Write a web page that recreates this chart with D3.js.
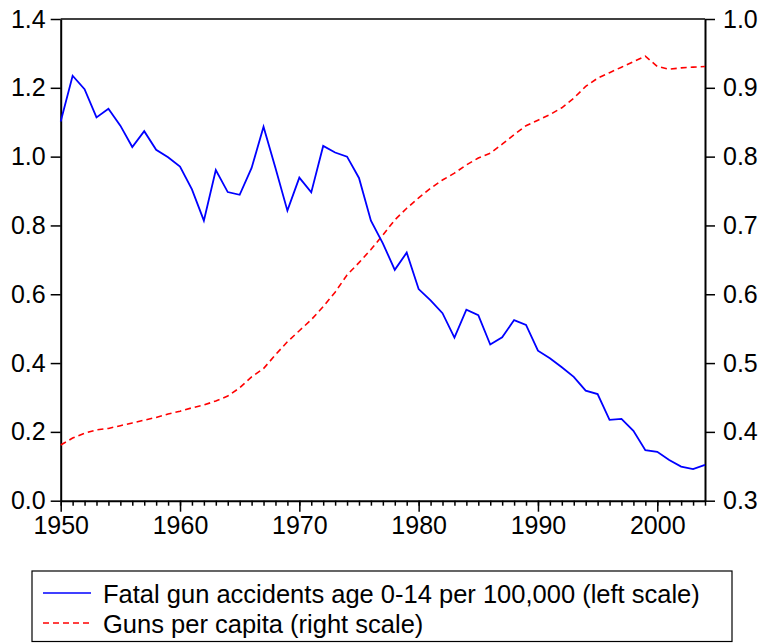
<!DOCTYPE html>
<html>
<head>
<meta charset="utf-8">
<script src="https://cdn.jsdelivr.net/npm/d3@7"></script>
<style>
  html, body { margin: 0; padding: 0; background: #fff; }
  svg { display: block; }
  text { font-family: Arial, "Liberation Sans", sans-serif; fill: #000; }
</style>
</head>
<body>
<svg id="chart" width="762" height="643"></svg>
<script>
const years = d3.range(1950, 2005);
const accidents = [
  1.102, 1.235, 1.196, 1.114, 1.139, 1.090, 1.028, 1.074, 1.020, 0.998,
  0.971, 0.905, 0.814, 0.961, 0.897, 0.889, 0.967, 1.087, 0.967, 0.843,
  0.939, 0.896, 1.031, 1.012, 1.000, 0.938, 0.814, 0.748, 0.671, 0.721,
  0.615, 0.582, 0.545, 0.474, 0.555, 0.539, 0.454, 0.475, 0.525, 0.511,
  0.436, 0.414, 0.388, 0.360, 0.320, 0.310, 0.235, 0.238, 0.203, 0.147,
  0.142, 0.118, 0.099, 0.092, 0.104
];
const gunsPerCapita = [
  0.381, 0.391, 0.398, 0.403, 0.405, 0.409, 0.413, 0.417, 0.421, 0.426,
  0.430, 0.435, 0.439, 0.445, 0.452, 0.464, 0.480, 0.492, 0.512, 0.531,
  0.547, 0.563, 0.582, 0.603, 0.628, 0.646, 0.665, 0.686, 0.708, 0.725,
  0.740, 0.754, 0.766, 0.776, 0.788, 0.798, 0.805, 0.818, 0.832, 0.845,
  0.853, 0.861, 0.871, 0.885, 0.902, 0.914, 0.922, 0.930, 0.938, 0.946,
  0.931, 0.927, 0.929, 0.930, 0.931
];
const xTickLabels = [1950, 1960, 1970, 1980, 1990, 2000];
const leftTicks = [0.0, 0.2, 0.4, 0.6, 0.8, 1.0, 1.2, 1.4];
const rightTicks = [0.3, 0.4, 0.5, 0.6, 0.7, 0.8, 0.9, 1.0];
const seriesNames = [
  "Fatal gun accidents age 0-14 per 100,000 (left scale)",
  "Guns per capita (right scale)"
];

const svg = d3.select("#chart");
const L = 60.7, R = 705, T = 19, B = 500.7;

const x = d3.scaleLinear().domain([1950, 2004]).range([L, R]);
const yL = d3.scaleLinear().domain([0, 1.4]).range([B, T]);
const yR = d3.scaleLinear().domain([0.3, 1.0]).range([B, T]);

// top border
svg.append("line").attr("x1", L).attr("x2", R).attr("y1", T).attr("y2", T)
  .attr("stroke", "#000").attr("stroke-width", 1.5);

// minor x ticks
const gMinor = svg.append("g").attr("transform", `translate(0,${B})`)
  .call(d3.axisBottom(x).tickValues(years).tickSize(5).tickFormat(""));
gMinor.select(".domain").remove();

// major x axis
const gx = svg.append("g").attr("transform", `translate(0,${B})`)
  .call(d3.axisBottom(x).tickValues(xTickLabels).tickSize(11).tickSizeOuter(0)
    .tickPadding(5).tickFormat(d3.format("d")));
gx.selectAll("text").attr("font-size", 25).attr("dy", "0.71em");

const gyL = svg.append("g").attr("transform", `translate(${L},0)`)
  .call(d3.axisLeft(yL).tickValues(leftTicks).tickSize(10).tickSizeOuter(0)
    .tickPadding(5).tickFormat(d3.format(".1f")));
gyL.selectAll("text").attr("font-size", 25);

const gyR = svg.append("g").attr("transform", `translate(${R},0)`)
  .call(d3.axisRight(yR).tickValues(rightTicks).tickSize(10).tickSizeOuter(0)
    .tickPadding(8).tickFormat(d3.format(".1f")));
gyR.selectAll("text").attr("font-size", 25);

[gMinor, gx, gyL, gyR].forEach(g => {
  g.selectAll("line").attr("stroke", "#000").attr("stroke-width", 1.5);
  g.selectAll(".domain").attr("stroke", "#000").attr("stroke-width", 2);
  g.selectAll("text").attr("font-family", 'Arial, "Liberation Sans", sans-serif').attr("fill", "#000");
});

// lines
const lineL = d3.line().x((d, i) => x(years[i])).y(d => yL(d));
const lineR = d3.line().x((d, i) => x(years[i])).y(d => yR(d));

svg.append("path").datum(gunsPerCapita).attr("d", lineR)
  .attr("fill", "none").attr("stroke", "#ff0000").attr("stroke-width", 1.6)
  .attr("stroke-dasharray", "6,4");

svg.append("path").datum(accidents).attr("d", lineL)
  .attr("fill", "none").attr("stroke", "#0000ff").attr("stroke-width", 1.8);

// legend
const lg = svg.append("g");
lg.append("rect").attr("x", 32).attr("y", 571).attr("width", 700).attr("height", 70.5)
  .attr("fill", "#fff").attr("stroke", "#000").attr("stroke-width", 1.2);
const legendStyles = [
  { color: "#0000ff", dash: null, y: 593 },
  { color: "#ff0000", dash: "6,4", y: 623 }
];
seriesNames.forEach((name, i) => {
  const s = legendStyles[i];
  const ln = lg.append("line").attr("x1", 43).attr("x2", 91).attr("y1", s.y).attr("y2", s.y)
    .attr("stroke", s.color).attr("stroke-width", 1.6);
  if (s.dash) ln.attr("stroke-dasharray", s.dash);
  lg.append("text").attr("x", 103).attr("y", s.y + 9.5).attr("font-size", 25.5)
    .text(name);
});
</script>
</body>
</html>
